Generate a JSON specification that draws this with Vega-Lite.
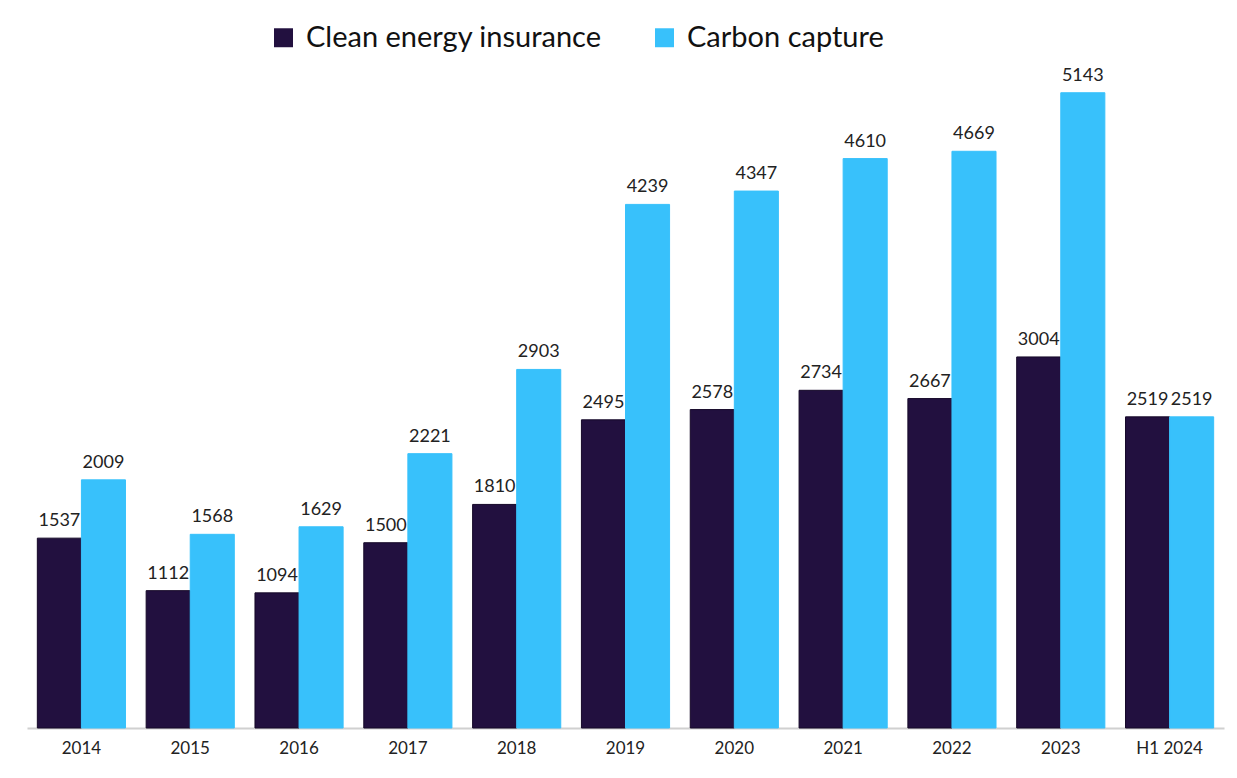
{
  "$schema": "https://vega.github.io/schema/vega-lite/v6.json",
  "autosize": "none",
  "width": 1197,
  "height": 667,
  "padding": {"left": 27, "top": 61, "right": 13, "bottom": 50},
  "background": "white",
  "config": {"view": {"stroke": null}, "font": "Lato"},
  "data": {"values": [
    {"year": "2014", "series": "Clean energy insurance", "value": 1537},
    {"year": "2014", "series": "Carbon capture", "value": 2009},
    {"year": "2015", "series": "Clean energy insurance", "value": 1112},
    {"year": "2015", "series": "Carbon capture", "value": 1568},
    {"year": "2016", "series": "Clean energy insurance", "value": 1094},
    {"year": "2016", "series": "Carbon capture", "value": 1629},
    {"year": "2017", "series": "Clean energy insurance", "value": 1500},
    {"year": "2017", "series": "Carbon capture", "value": 2221},
    {"year": "2018", "series": "Clean energy insurance", "value": 1810},
    {"year": "2018", "series": "Carbon capture", "value": 2903},
    {"year": "2019", "series": "Clean energy insurance", "value": 2495},
    {"year": "2019", "series": "Carbon capture", "value": 4239},
    {"year": "2020", "series": "Clean energy insurance", "value": 2578},
    {"year": "2020", "series": "Carbon capture", "value": 4347},
    {"year": "2021", "series": "Clean energy insurance", "value": 2734},
    {"year": "2021", "series": "Carbon capture", "value": 4610},
    {"year": "2022", "series": "Clean energy insurance", "value": 2667},
    {"year": "2022", "series": "Carbon capture", "value": 4669},
    {"year": "2023", "series": "Clean energy insurance", "value": 3004},
    {"year": "2023", "series": "Carbon capture", "value": 5143},
    {"year": "H1 2024", "series": "Clean energy insurance", "value": 2519},
    {"year": "H1 2024", "series": "Carbon capture", "value": 2519}
  ]},
  "encoding": {
    "x": {
      "field": "year", "type": "nominal", "sort": null,
      "scale": {"paddingInner": 0.19, "paddingOuter": 0.095},
      "axis": {
        "title": null, "labelAngle": 0, "ticks": false, "domainColor": "#d0d0d0", "domainWidth": 2,
        "labelFontSize": 17, "labelColor": "#222222", "labelPadding": 12, "labelFont": "Lato"
      }
    },
    "xOffset": {"field": "series", "type": "nominal", "sort": ["Clean energy insurance", "Carbon capture"], "scale": {"paddingInner": 0, "paddingOuter": 0}},
    "y": {"field": "value", "type": "quantitative", "scale": {"domain": [0, 5400]}, "axis": null}
  },
  "layer": [
    {
      "mark": {"type": "bar", "strokeWidth": 1},
      "encoding": {
        "color": {
          "field": "series", "type": "nominal",
          "sort": ["Clean energy insurance", "Carbon capture"],
          "scale": {"domain": ["Clean energy insurance", "Carbon capture"], "range": ["#22103f", "#38c1fb"]},
          "legend": {
            "title": null, "orient": "none", "direction": "horizontal",
            "legendX": 242, "legendY": -38,
            "symbolType": "square", "symbolSize": 360, "symbolStrokeWidth": 0,
            "labelFontSize": 29, "labelColor": "#111111", "labelFont": "Lato",
            "labelOffset": 8, "columnPadding": 48, "labelLimit": 500
          }
        },
        "stroke": {
          "field": "series", "type": "nominal",
          "scale": {"domain": ["Clean energy insurance", "Carbon capture"], "range": ["#150828", "#38c1fb"]},
          "legend": null
        }
      }
    },
    {
      "mark": {"type": "text", "baseline": "bottom", "dy": -8, "fontSize": 18, "color": "#222222", "font": "Lato"},
      "encoding": {"text": {"field": "value", "type": "quantitative", "format": "d"}}
    }
  ]
}
